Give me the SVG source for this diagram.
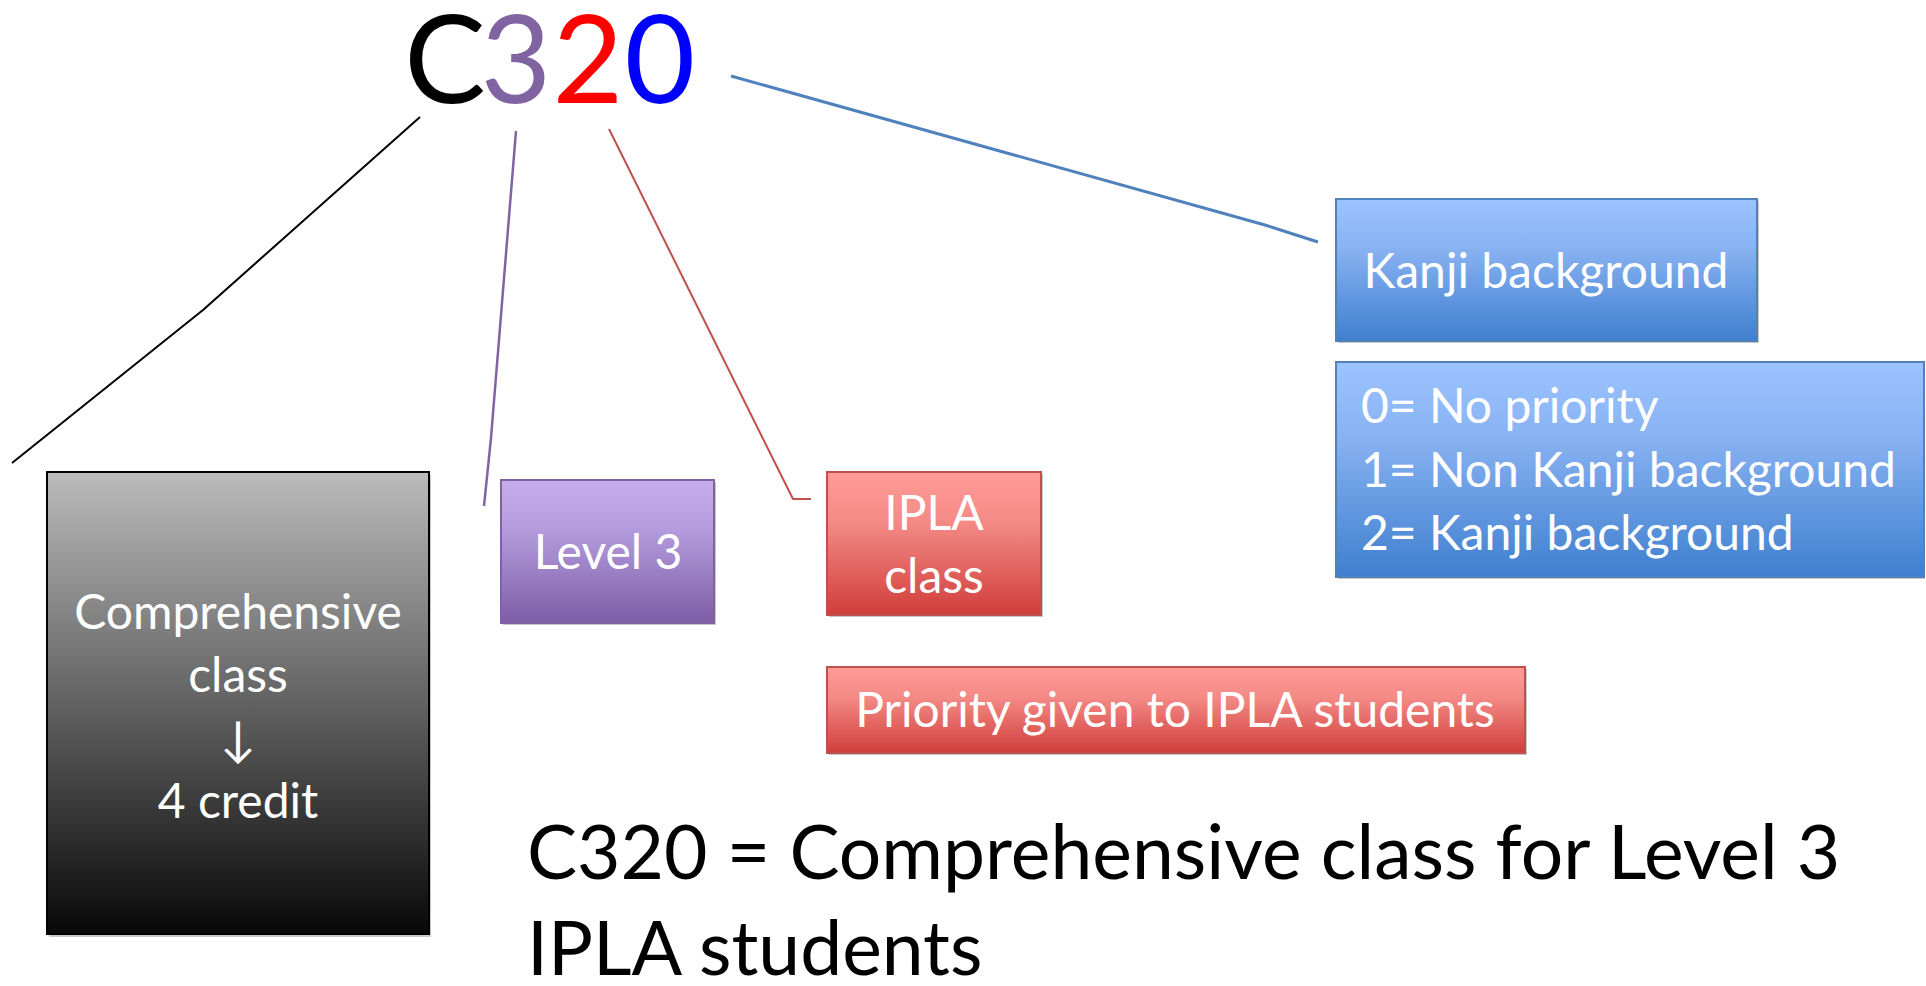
<svg xmlns="http://www.w3.org/2000/svg" width="1926" height="986" viewBox="0 0 1926 986">
<defs>
<linearGradient id="gGray" x1="0" y1="0" x2="0" y2="1"><stop offset="0" stop-color="#BBBBBB"/><stop offset="1" stop-color="#080808"/></linearGradient>
<linearGradient id="gPurple" x1="0" y1="0" x2="0" y2="1"><stop offset="0" stop-color="#C6AEEE"/><stop offset="0.35" stop-color="#B39BDD"/><stop offset="1" stop-color="#7E5EA6"/></linearGradient>
<linearGradient id="gRed" x1="0" y1="0" x2="0" y2="1"><stop offset="0" stop-color="#FF9B97"/><stop offset="0.35" stop-color="#F48A86"/><stop offset="1" stop-color="#D03E3A"/></linearGradient>
<linearGradient id="gBlue" x1="0" y1="0" x2="0" y2="1"><stop offset="0" stop-color="#9BC4FF"/><stop offset="0.35" stop-color="#88B2F2"/><stop offset="1" stop-color="#3F7FCE"/></linearGradient>
</defs>
<style>
text{font-family:Lato,"Open Sans","Liberation Sans",sans-serif}
.w{fill:#FFFFFF;font-size:48px}
.c{text-anchor:middle}
.big{font-size:122px;text-anchor:middle}
.sh{fill:#C8C8C8}
.conn{fill:none;stroke-linejoin:round}
</style>
<rect width="1926" height="986" fill="#FFFFFF"/>

<g id="title">
<text class="big" x="445" y="103" fill="#000000">C</text>
<text class="big" x="516" y="103" fill="#8064A2">3</text>
<text class="big" x="588" y="103" fill="#FF0000">2</text>
<text class="big" x="660" y="103" fill="#0000FF">0</text>
</g>

<g id="connectors" class="conn">
<polyline points="420,117 203,310 12,463" stroke="#000000" stroke-width="2"/>
<polyline points="516,131 491,438 484,506" stroke="#8064A2" stroke-width="2.5"/>
<polyline points="609,129 793,499 811,499" stroke="#C0504D" stroke-width="2"/>
<polyline points="731,76 1265,225 1318,242" stroke="#4F81BD" stroke-width="3"/>
</g>

<g id="node-comprehensive">
<rect x="49" y="475" width="382" height="462" class="sh"/>
<rect x="47" y="472" width="382" height="462" fill="url(#gGray)" stroke="#000000" stroke-width="2"/>
<text class="w c" x="238" y="629" font-size="49">Comprehensive</text>
<text class="w c" x="238" y="692">class</text>
<text class="w c" x="238" y="756">↓</text>
<text class="w c" x="238" y="818">4 credit</text>
</g>

<g id="node-level3">
<rect x="503" y="482" width="213" height="143" class="sh"/>
<rect x="501" y="480" width="213" height="143" fill="url(#gPurple)" stroke="#7F63A1" stroke-width="2"/>
<text class="w c" x="608" y="569">Level 3</text>
</g>

<g id="node-ipla">
<rect x="829" y="474" width="214" height="143" class="sh"/>
<rect x="827" y="472" width="214" height="143" fill="url(#gRed)" stroke="#C0504D" stroke-width="2"/>
<text class="w c" x="934" y="530">IPLA</text>
<text class="w c" x="934" y="593">class</text>
</g>

<g id="node-priority">
<rect x="829" y="669" width="698" height="86" class="sh"/>
<rect x="827" y="667" width="698" height="86" fill="url(#gRed)" stroke="#C0504D" stroke-width="2"/>
<text class="w c" x="1175" y="727">Priority given to IPLA students</text>
</g>

<g id="node-kanji">
<rect x="1338" y="201" width="421" height="142" class="sh"/>
<rect x="1336" y="199" width="421" height="142" fill="url(#gBlue)" stroke="#4F81BD" stroke-width="2"/>
<text class="w c" x="1546" y="288">Kanji background</text>
</g>

<g id="node-kanji-values">
<rect x="1338" y="364" width="587" height="215" class="sh"/>
<rect x="1336" y="362" width="588" height="215" fill="url(#gBlue)" stroke="#4F81BD" stroke-width="2"/>
<text class="w" x="1361" y="423">0= No priority</text>
<text class="w" x="1361" y="487">1= Non Kanji background</text>
<text class="w" x="1361" y="550">2= Kanji background</text>
</g>

<g id="summary">
<text x="527" y="879" font-size="75" fill="#000000">C320 = Comprehensive class for Level 3</text>
<text x="527" y="975" font-size="75" fill="#000000">IPLA students</text>
</g>
</svg>
